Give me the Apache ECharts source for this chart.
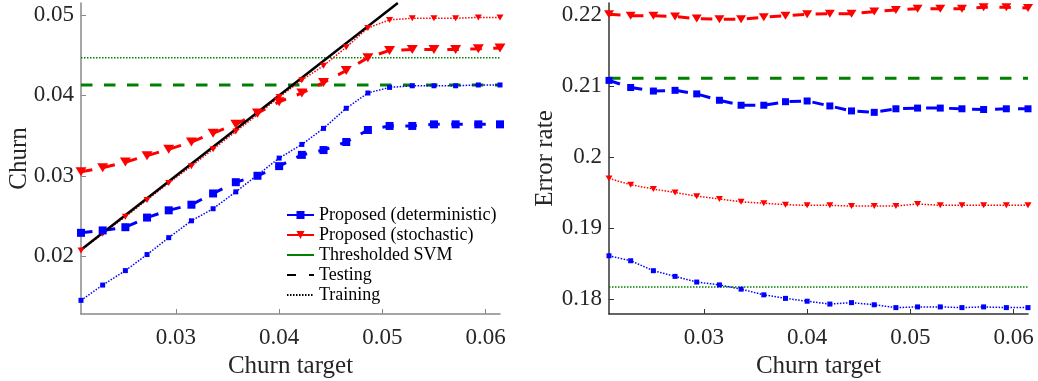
<!DOCTYPE html>
<html>
<head>
<meta charset="utf-8">
<script src="https://cdn.jsdelivr.net/npm/echarts@6/dist/echarts.min.js"></script>
<style>
html,body{margin:0;padding:0;background:#fff;}
#c{width:1038px;height:381px;}
</style>
</head>
<body>
<div id="c"></div>
<script>
// ---- data ----
const xs = [0.0208, 0.0229, 0.0251, 0.0272, 0.0293, 0.0315, 0.0336, 0.0358, 0.0379, 0.0400,
            0.0422, 0.0443, 0.0465, 0.0486, 0.0507, 0.0529, 0.0550, 0.0571, 0.0593, 0.0614];

// left panel: churn
const churnDetTest  = [0.0229,0.0232,0.0236,0.0248,0.0257,0.0264,0.0278,0.0292,0.0300,0.0312,0.0326,0.0332,0.0342,0.0357,0.0362,0.0362,0.0364,0.0364,0.0364,0.0364];
const churnDetTrain = [0.0145,0.0164,0.0182,0.0202,0.0223,0.0244,0.0259,0.0280,0.0301,0.0322,0.0339,0.0359,0.0384,0.0403,0.0410,0.0412,0.0412,0.0412,0.0413,0.0413];
const churnStoTest  = [0.0305,0.0310,0.0317,0.0325,0.0333,0.0342,0.0353,0.0364,0.0378,0.0392,0.0403,0.0416,0.0431,0.0447,0.0456,0.0457,0.0457,0.0457,0.0458,0.0459];
const churnStoTrain = [0.0207,0.0228,0.0249,0.0270,0.0291,0.0312,0.0333,0.0355,0.0376,0.0398,0.0419,0.0437,0.0460,0.0484,0.0494,0.0496,0.0496,0.0496,0.0497,0.0497];
const churnSvmTest  = 0.0413;
const churnSvmTrain = 0.0447;
const targetLine    = [[0.0208, 0.0208], [0.0515, 0.0515]];

// right panel: error rate
const errDetTest  = [0.2108,0.2098,0.2093,0.2094,0.2089,0.2080,0.2073,0.2073,0.2078,0.2079,0.2072,0.2065,0.2063,0.2068,0.2069,0.2069,0.2068,0.2067,0.2068,0.2068];
const errDetTrain = [0.1861,0.1854,0.1840,0.1832,0.1824,0.1820,0.1814,0.1806,0.1801,0.1797,0.1793,0.1795,0.1792,0.1788,0.1789,0.1789,0.1788,0.1789,0.1788,0.1788];
const errStoTest  = [0.2201,0.2199,0.2199,0.2198,0.2195,0.2194,0.2194,0.2197,0.2199,0.2201,0.2202,0.2202,0.2205,0.2207,0.2209,0.2209,0.2209,0.2211,0.2211,0.2210];
const errStoTrain = [0.1970,0.1961,0.1955,0.1950,0.1945,0.1941,0.1937,0.1935,0.1933,0.1932,0.1932,0.1931,0.1931,0.1931,0.1934,0.1932,0.1932,0.1932,0.1932,0.1932];
const errSvmTest  = 0.2111;
const errSvmTrain = 0.1817;

// tick labels
const xTicks = [0.03, 0.04, 0.05, 0.06];
const churnTicks = [0.02, 0.03, 0.04, 0.05];
const errTicks = [0.18, 0.19, 0.2, 0.21, 0.22];

const legendNames = ['Proposed (deterministic)', 'Proposed (stochastic)', 'Thresholded SVM', 'Testing', 'Training'];

// ---- build ----
const BLUE = '#0000ff', RED = '#ff0000', GREEN = '#008000';
const FONT = '"Liberation Serif", "Times New Roman", serif';
const TXT = '#262626';
const DASH = [11.5, 11.5];
const DOT = [1.5, 1.5];

function pts(ys) { return xs.map((x, i) => [x, ys[i]]); }
function flat(v) { return xs.map(x => [x, v]); }

function xAxis(gridIndex, axisColor) {
  return {
    type: 'value', gridIndex: gridIndex, min: 0.0208, max: 0.0614,
    name: 'Churn target', nameLocation: 'middle', nameGap: 39,
    nameTextStyle: { fontFamily: FONT, fontSize: 25, color: TXT },
    axisLine: { show: true, lineStyle: { color: axisColor, width: 1.5 } },
    axisTick: { show: true, inside: true, length: 5, customValues: xTicks, lineStyle: { color: axisColor } },
    axisLabel: { customValues: xTicks, fontFamily: FONT, fontSize: 23, color: TXT, margin: 12 },
    splitLine: { show: false }
  };
}
function yAxis(gridIndex, min, max, ticks, name, axisColor, gap) {
  return {
    type: 'value', gridIndex: gridIndex, min: min, max: max,
    name: name, nameLocation: 'middle', nameGap: gap, nameMoveOverlap: false,
    nameTextStyle: { fontFamily: FONT, fontSize: 25, color: TXT },
    axisLine: { show: true, lineStyle: { color: axisColor, width: 1.5 } },
    axisTick: { show: true, inside: true, length: 5, customValues: ticks, lineStyle: { color: axisColor } },
    axisLabel: { customValues: ticks, fontFamily: FONT, fontSize: 23, color: TXT, margin: 7 },
    splitLine: { show: false }
  };
}

function line(name, g, data, color, dash, width, symbol, size, rotate) {
  return {
    name: name, type: 'line', xAxisIndex: g, yAxisIndex: g, data: data,
    symbol: symbol || 'none', symbolSize: size || 0, symbolRotate: rotate || 0,
    showSymbol: !!symbol,
    lineStyle: { color: color, width: width, type: dash },
    itemStyle: { color: color },
    silent: true, z: 2
  };
}

const TRI = 'triangle';
const series = [
  // left panel
  line('svmTestL', 0, flat(churnSvmTest), GREEN, DASH, 3),
  line('svmTrainL', 0, flat(churnSvmTrain), GREEN, DOT, 1.5),
  line('detTrainL', 0, pts(churnDetTrain), BLUE, DOT, 1.5, 'rect', 5),
  line('stoTrainL', 0, pts(churnStoTrain), RED, DOT, 1.5, TRI, [7, 6], 180),
  line('detTestL', 0, pts(churnDetTest), BLUE, DASH, 3, 'rect', 8),
  line('stoTestL', 0, pts(churnStoTest), RED, DASH, 3, TRI, [11, 9], 180),
  line('target', 0, targetLine, '#000', 'solid', 2.5),
  // right panel
  line('svmTestR', 1, flat(errSvmTest), GREEN, DASH, 3),
  line('svmTrainR', 1, flat(errSvmTrain), GREEN, DOT, 1.5),
  line('detTrainR', 1, pts(errDetTrain), BLUE, DOT, 1.5, 'rect', 5),
  line('stoTrainR', 1, pts(errStoTrain), RED, DOT, 1.5, TRI, [7, 6], 180),
  line('detTestR', 1, pts(errDetTest), BLUE, DASH, 3, 'rect', 7),
  line('stoTestR', 1, pts(errStoTest), RED, DASH, 3, TRI, [10, 8], 180),
  // legend-only entries
  line(legendNames[0], 0, [], BLUE, 'solid', 2.5, 'rect', 7),
  line(legendNames[1], 0, [], RED, 'solid', 2.5, TRI, [10, 8], 180),
  line(legendNames[2], 0, [], GREEN, 'solid', 2.5),
  line(legendNames[3], 0, [], '#000', [9, 13], 2.5),
  line(legendNames[4], 0, [], '#000', DOT, 1.2)
];

const hideMark = { opacity: 0 };
const chart = echarts.init(document.getElementById('c'), null, { renderer: 'canvas' });
chart.setOption({
  animation: false,
  backgroundColor: '#fff',
  grid: [
    { left: 81, top: 3, width: 419, height: 311, containLabel: false, outerBoundsMode: 'none' },
    { left: 609, top: 3, width: 419, height: 311, containLabel: false, outerBoundsMode: 'none' }
  ],
  xAxis: [xAxis(0, '#888'), xAxis(1, '#333')],
  yAxis: [
    yAxis(0, 0.0128, 0.0515, churnTicks, 'Churn', '#888', 49),
    yAxis(1, 0.1779, 0.2217, errTicks, 'Error rate', '#333', 51)
  ],
  legend: {
    data: [
      { name: legendNames[0] },
      { name: legendNames[1] },
      { name: legendNames[2], itemStyle: hideMark },
      { name: legendNames[3], itemStyle: hideMark },
      { name: legendNames[4], itemStyle: hideMark }
    ],
    orient: 'vertical', left: 286, top: 206, padding: 0,
    itemWidth: 27, itemHeight: 10, itemGap: 2,
    textStyle: { fontFamily: FONT, fontSize: 18, color: '#000' },
    selectedMode: false
  },
  series: series
});
</script>
</body>
</html>
